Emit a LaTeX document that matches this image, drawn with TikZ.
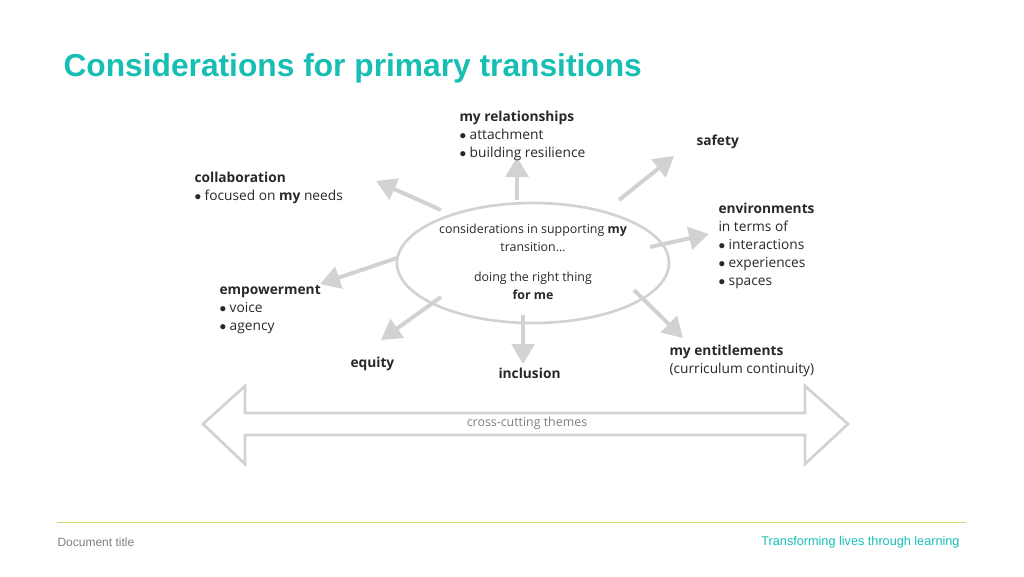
\documentclass[tikz,border=0pt]{standalone}
\usepackage{fontspec}
\setmainfont{Open Sans}
\newfontfamily\arialfont{Liberation Sans}
\usetikzlibrary{arrows.meta}
\definecolor{teal1}{RGB}{22,190,180}
\definecolor{arrowgrey}{RGB}{210,210,210}
\definecolor{txtgrey}{RGB}{40,40,40}
\definecolor{lineyg}{RGB}{200,215,120}
\tikzset{every picture/.style={line width=0.75pt}}
\tikzset{
  spoke/.style={draw=arrowgrey, line width=3pt, -{Triangle[length=15pt,width=17pt]}},
  lbl/.style={anchor=north west, inner sep=0.75pt, align=left, text=txtgrey, font=\fontsize{10.3}{13.5}\selectfont},
}
\begin{document}
\begin{tikzpicture}[x=0.75pt,y=0.75pt,yscale=-1,xscale=1]
\useasboundingbox (0,0) rectangle (1024,576);

% Title
\node [anchor=west, inner sep=0pt, text=teal1, font=\arialfont\bfseries\fontsize{23.8}{28}\selectfont] (title) at (63,68) {Considerations for primary transitions};

% Centre ellipse
\draw [draw=arrowgrey, line width=2pt] (533,263) ellipse (136 and 60);
\node [inner sep=0.75pt, align=center, text=txtgrey, font=\fontsize{9.3}{13}\selectfont] (centre) at (533,238) {considerations in supporting \textbf{my}\\transition\dots};
\node [inner sep=0.75pt, align=center, text=txtgrey, font=\fontsize{9.3}{13}\selectfont] (centre2) at (533,286) {doing the right thing\\\textbf{for me}};

% Spokes
\coordinate (rA) at (517,200); \coordinate (rB) at (517,157);
\coordinate (sA) at (619,200); \coordinate (sB) at (674,156);
\coordinate (cA) at (441,210); \coordinate (cB) at (376,181);
\coordinate (eA) at (650,247); \coordinate (eB) at (709,234);
\coordinate (pA) at (397,258); \coordinate (pB) at (320,284);
\coordinate (qA) at (441,297); \coordinate (qB) at (381,340);
\coordinate (iA) at (523,315); \coordinate (iB) at (523,364);
\coordinate (mA) at (634,290); \coordinate (mB) at (683,338);
\foreach \a/\b in {rA/rB,sA/sB,cA/cB,eA/eB,pA/pB,qA/qB,iA/iB,mA/mB}
  \draw [spoke] (\a) -- (\b);

% Labels
\node [lbl] (rel) at (458,110) {\textbf{my relationships}\\$\bullet$ attachment\\$\bullet$ building resilience};
\node [lbl] (safety) at (695,133) {\textbf{safety}};
\node [lbl] (collab) at (193,171) {\textbf{collaboration}\\$\bullet$ focused on \textbf{my} needs};
\node [lbl] (env) at (717,202) {\textbf{environments}\\in terms of\\$\bullet$ interactions\\$\bullet$ experiences\\$\bullet$ spaces};
\node [lbl] (emp) at (218,284) {\textbf{empowerment}\\$\bullet$ voice\\$\bullet$ agency};
\node [lbl] (equity) at (349,356) {\textbf{equity}};
\node [lbl] (incl) at (497,367) {\textbf{inclusion}};
\node [lbl] (ent) at (668,344) {\textbf{my entitlements}\\(curriculum continuity)};

% Cross-cutting double arrow
\draw [draw=arrowgrey, line width=2pt, fill=white] (203,424) -- (245,386) -- (245,413) -- (805,413) -- (805,386) -- (848,424) -- (805,464) -- (805,435) -- (245,435) -- (245,464) -- cycle;
\node [inner sep=0.75pt, text=gray, font=\fontsize{9.3}{12}\selectfont] (cross) at (527,423) {cross-cutting themes};

% Footer
\draw [lineyg, line width=0.75pt] (57,522) -- (966,522);
\node [anchor=west, inner sep=0pt, text=gray, font=\arialfont\fontsize{9}{11}\selectfont] (doc) at (57,542) {Document title};
\node [anchor=east, inner sep=0pt, text=teal1, font=\arialfont\fontsize{9.5}{11}\selectfont] (tag) at (960,542) {Transforming lives through learning};
\end{tikzpicture}
\end{document}
